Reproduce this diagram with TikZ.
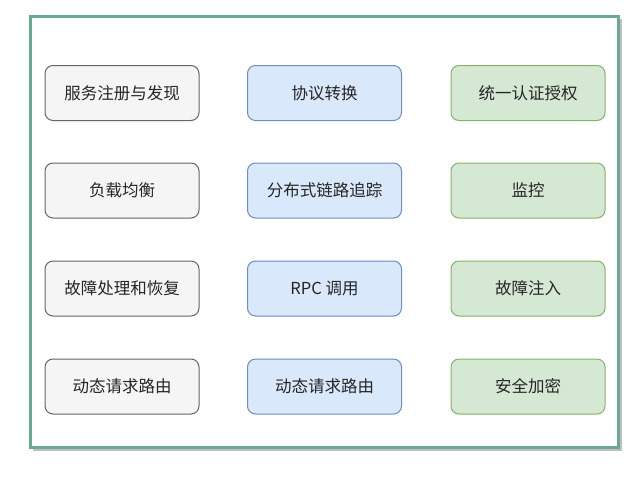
\documentclass[tikz,border=0pt]{standalone}
\usepackage{fontspec}
\setmainfont{Noto Sans CJK SC}
\definecolor{framec}{HTML}{67AB94}
\definecolor{grayf}{HTML}{F5F5F5}
\definecolor{grayd}{HTML}{666666}
\definecolor{bluef}{HTML}{DAE8FC}
\definecolor{blued}{HTML}{6C8EBF}
\definecolor{greenf}{HTML}{D5E8D4}
\definecolor{greend}{HTML}{82B366}
\begin{document}
\begin{tikzpicture}[x=1pt,y=-1pt,
  box/.style={rounded corners=8pt, minimum width=154pt, minimum height=55pt, line width=1pt, font=\fontsize{16.5}{19}\selectfont, text=black!85, inner sep=0pt},
  graybox/.style={box, draw=grayd, fill=grayf},
  bluebox/.style={box, draw=blued, fill=bluef},
  greenbox/.style={box, draw=greend, fill=greenf}]
\useasboundingbox (0,0) rectangle (644,482);
\fill[black!25] (33,19) rectangle (622,451);
\draw[line width=3pt, draw=framec, fill=white] (30,16) rectangle (618,447);
\node[graybox] (a1) at (122,93) {服务注册与发现};
\node[graybox] (a2) at (122,190.5) {负载均衡};
\node[graybox] (a3) at (122,288.5) {故障处理和恢复};
\node[graybox] (a4) at (122,386.5) {动态请求路由};
\node[bluebox] (b1) at (324.5,93) {协议转换};
\node[bluebox] (b2) at (324.5,190.5) {分布式链路追踪};
\node[bluebox] (b3) at (324.5,288.5) {RPC 调用};
\node[bluebox] (b4) at (324.5,386.5) {动态请求路由};
\node[greenbox] (c1) at (528,93) {统一认证授权};
\node[greenbox] (c2) at (528,190.5) {监控};
\node[greenbox] (c3) at (528,288.5) {故障注入};
\node[greenbox] (c4) at (528,386.5) {安全加密};
\end{tikzpicture}
\end{document}
